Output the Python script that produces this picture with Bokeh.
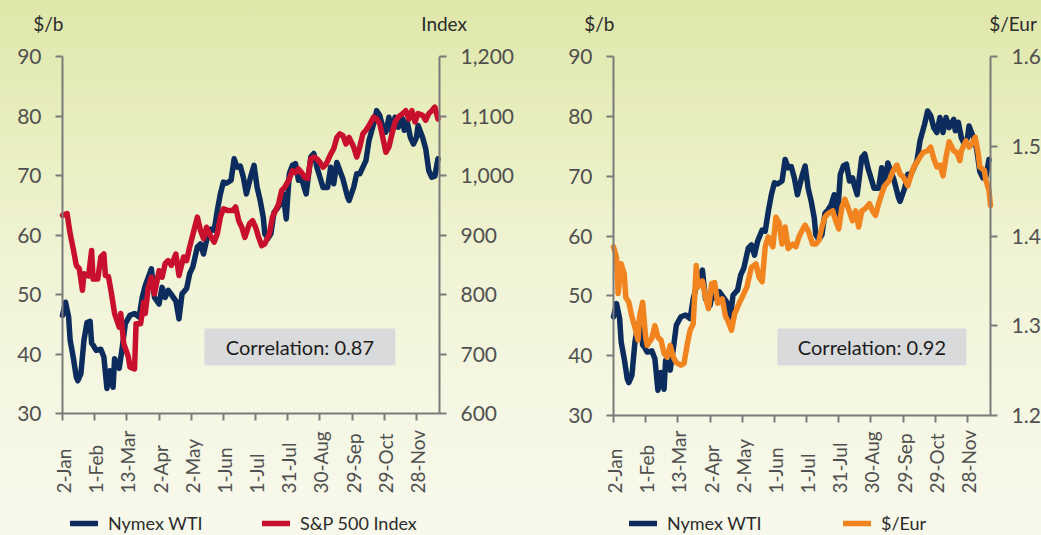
import math
from bokeh.plotting import figure
from bokeh.layouts import row
from bokeh.core.properties import value
from bokeh.models import (Range1d, LinearAxis, FixedTicker, NumeralTickFormatter, Label,
                          LabelSet, ColumnDataSource, BoxAnnotation, Legend, LegendItem,
                          GlobalInlineStyleSheet)
from bokeh.embed import file_html
from bokeh.resources import INLINE

# ---------------- data (trading-day index from 2-Jan, value) ----------------
tick_days = [0, 21, 42, 63, 84, 105, 126, 147, 168, 189, 210, 231]
tick_labels = ["2-Jan", "1-Feb", "13-Mar", "2-Apr", "2-May", "1-Jun", "1-Jul",
               "31-Jul", "30-Aug", "29-Sep", "29-Oct", "28-Nov"]

wti_day = [0, 2, 4, 5, 7, 9, 10, 12, 14, 16, 18, 19, 20, 22, 25, 27, 29, 31, 33, 34,
           37, 39, 41, 44, 47, 50, 52, 54, 56, 58, 60, 63, 65, 67, 69, 71, 74, 76, 78, 81,
           83, 85, 88, 90, 92, 94, 97, 99, 101, 103, 105, 107, 110, 112, 114, 116, 118, 120, 123, 125,
           127, 129, 131, 132, 134, 136, 138, 140, 142, 144, 146, 148, 150, 152, 154, 156, 157, 159, 162, 164,
           166, 168, 170, 173, 175, 177, 179, 181, 183, 186, 187, 190, 192, 194, 196, 198, 200, 203, 205, 207,
           209, 211, 213, 215, 217, 219, 222, 223, 225, 227, 229, 231, 232, 235, 237, 239, 241, 243, 245]
wti = [46.5, 48.7, 46.2, 42.3, 39.5, 36.1, 35.5, 36.7, 42.3, 45.3,
       45.5, 41.8, 41.5, 40.6, 40.8, 39.5, 34.2, 37.2, 34.4, 39.2,
       37.6, 41.1, 45.1, 46.5, 46.8, 46.2, 49.5, 51.5, 52.9, 54.3,
       49.5, 48.4, 51.2, 49.5, 50.7, 50.0, 48.9, 45.9, 50.1, 51.0,
       53.5, 54.6, 58.0, 58.5, 56.8, 59.1, 61.0, 60.8, 64.1, 66.9,
       68.9, 68.7, 69.2, 72.8, 71.4, 71.6, 69.7, 66.9, 70.0, 71.7,
       68.0, 65.8, 63.0, 60.2, 59.4, 60.2, 63.8, 64.4, 65.2, 66.9,
       62.7, 70.3, 71.7, 72.0, 69.2, 69.7, 68.6, 66.9, 73.1, 73.7,
       71.4, 69.7, 68.0, 68.0, 71.4, 68.6, 72.2, 70.8, 69.4, 66.4,
       65.8, 68.0, 70.3, 70.3, 71.4, 72.5, 75.9, 78.7, 80.9, 80.1,
       78.1, 77.3, 79.8, 77.3, 79.8, 78.1, 79.5, 77.6, 79.0, 76.4,
       75.3, 76.4, 78.4, 76.4, 74.5, 70.8, 69.7, 69.9, 72.8]

sp_day = [0, 3, 5, 7, 9, 11, 13, 14, 17, 19, 20, 23, 25, 27, 28, 30, 32, 34, 37, 38,
          40, 43, 44, 47, 48, 51, 53, 54, 56, 58, 60, 63, 65, 67, 69, 71, 74, 76, 79, 81,
          83, 86, 88, 90, 92, 94, 97, 99, 101, 103, 105, 108, 111, 113, 115, 117, 119, 122, 124, 126,
          128, 130, 132, 135, 137, 139, 141, 143, 145, 148, 150, 152, 154, 156, 158, 160, 162, 164, 166, 168,
          170, 172, 175, 177, 179, 181, 183, 185, 187, 190, 192, 194, 196, 198, 200, 203, 205, 207, 209, 211,
          213, 215, 217, 219, 222, 224, 226, 228, 230, 232, 235, 237, 239, 241, 243, 245]
sp500 = [933, 936, 902, 877, 849, 843, 807, 835, 831, 874,
         826, 826, 863, 868, 832, 830, 801, 768, 745, 768,
         717, 695, 678, 675, 751, 751, 787, 768, 812, 829,
         801, 840, 829, 852, 857, 849, 868, 832, 863, 857,
         880, 910, 930, 908, 894, 913, 896, 888, 902, 930,
         944, 941, 941, 947, 924, 913, 896, 919, 924, 913,
         896, 882, 885, 902, 930, 941, 952, 975, 980, 994,
         1008, 1005, 1011, 1005, 997, 995, 1028, 1031, 1028, 1022,
         1014, 1019, 1036, 1045, 1064, 1070, 1067, 1053, 1064, 1048,
         1031, 1048, 1070, 1076, 1084, 1098, 1095, 1087, 1064, 1039,
         1048, 1070, 1090, 1098, 1104, 1109, 1095, 1109, 1090, 1104,
         1101, 1093, 1104, 1109, 1115, 1095]

eur_day = [0, 2, 3, 5, 7, 8, 10, 12, 14, 16, 17, 19, 21, 22, 25, 27, 29, 31, 33, 35,
           37, 39, 41, 44, 46, 48, 50, 52, 54, 55, 58, 60, 62, 64, 66, 68, 71, 73, 75, 77,
           79, 82, 84, 87, 90, 93, 95, 97, 99, 101, 104, 106, 108, 110, 112, 114, 117, 119, 121, 123,
           125, 127, 130, 132, 134, 136, 138, 140, 143, 145, 147, 149, 151, 153, 156, 158, 160, 162, 164, 167,
           169, 171, 173, 175, 177, 180, 182, 184, 185, 187, 189, 192, 194, 196, 198, 200, 202, 205, 207, 209,
           211, 213, 215, 217, 219, 222, 224, 226, 227, 230, 232, 234, 236, 238, 239, 242, 243, 245, 246]
usd_eur = [1.388, 1.376, 1.336, 1.369, 1.358, 1.332, 1.326, 1.310, 1.298, 1.284,
           1.310, 1.326, 1.287, 1.278, 1.286, 1.300, 1.287, 1.284, 1.269, 1.265,
           1.278, 1.265, 1.259, 1.256, 1.258, 1.278, 1.295, 1.302, 1.367, 1.343,
           1.350, 1.332, 1.319, 1.347, 1.348, 1.325, 1.330, 1.311, 1.304, 1.295,
           1.313, 1.325, 1.332, 1.343, 1.365, 1.369, 1.354, 1.349, 1.388, 1.399,
           1.388, 1.421, 1.415, 1.391, 1.410, 1.386, 1.391, 1.388, 1.399, 1.406,
           1.412, 1.406, 1.391, 1.391, 1.395, 1.410, 1.421, 1.425, 1.428, 1.417,
           1.408, 1.432, 1.441, 1.432, 1.417, 1.428, 1.410, 1.428, 1.430, 1.436,
           1.428, 1.423, 1.436, 1.447, 1.456, 1.462, 1.471, 1.477, 1.479, 1.469,
           1.466, 1.456, 1.467, 1.477, 1.482, 1.488, 1.493, 1.495, 1.499, 1.486,
           1.477, 1.479, 1.467, 1.488, 1.505, 1.495, 1.493, 1.484, 1.495, 1.506,
           1.499, 1.503, 1.510, 1.492, 1.477, 1.473, 1.462, 1.451, 1.434]

wti_ticks = [30, 40, 50, 60, 70, 80, 90]
sp_ticks = [600, 700, 800, 900, 1000, 1100, 1200]
eur_ticks = [1.2, 1.3, 1.4, 1.5, 1.6]

# ---------------- style ----------------
NAVY = "#0b2c5c"
RED = "#c8102e"
ORANGE = "#f28420"
AXIS_C = "#7a7a7a"
TICK_TXT = "#505050"
DARK_TXT = "#2b2b2b"
FONT = "Lato"
H = 535
X_END = 246  # last trading-day slot on the axis
LW = 5.5


def style_axis(ax, ticks, bounds, fmt=None):
    ax.ticker = FixedTicker(ticks=ticks)
    ax.bounds = bounds
    if fmt:
        ax.formatter = NumeralTickFormatter(format=fmt)
    ax.axis_line_color = AXIS_C
    ax.axis_line_width = 2
    ax.major_tick_line_color = AXIS_C
    ax.major_tick_line_width = 2
    ax.major_tick_out = 7
    ax.major_tick_in = 0
    ax.minor_tick_line_color = None
    ax.major_label_text_font = FONT
    ax.major_label_text_font_size = "21px"
    ax.major_label_text_color = TICK_TXT
    ax.major_label_standoff = 14


def make_chart(width, fx0, fx1, fy0, fy1, y2_name, y2_lo, y2_hi, y2_ticks, y2_fmt,
               y2_vals, y2_days, y2_color, y2_label, corr_text, corr_box,
               titles, leg_x):
    # frame fills the whole canvas; axes sit at fixed data locations
    kx = (fx1 - fx0) / X_END
    ky = (fy1 - fy0) / 60.0
    ky2 = (fy1 - fy0) / (y2_hi - y2_lo)
    xr = Range1d(-fx0 / kx, (width - fx0) / kx)
    yr = Range1d(30 - (H - fy1) / ky, 90 + fy0 / ky)
    y2r = Range1d(y2_lo - (H - fy1) / ky2, y2_hi + fy0 / ky2)

    p = figure(width=width, height=H, x_range=xr, y_range=yr,
               output_backend="svg", toolbar_location=None, min_border=0)
    p.title.visible = False
    p.background_fill_color = None
    p.border_fill_color = None
    p.outline_line_color = None
    p.grid.visible = False
    p.extra_y_ranges = {y2_name: y2r}

    ya = p.yaxis[0]
    style_axis(ya, wti_ticks, (30, 90))
    ya.fixed_location = 0
    ax2 = LinearAxis(y_range_name=y2_name)
    style_axis(ax2, y2_ticks, (y2_lo, y2_hi), y2_fmt)
    ax2.fixed_location = X_END
    p.add_layout(ax2, "right")

    xa = p.xaxis[0]
    style_axis(xa, tick_days, (0, X_END))
    xa.fixed_location = 30
    xa.major_label_overrides = {d: "" for d in tick_days}

    # x tick labels, rotated and aligned at their start as in the original
    label_y = 30 - (493 - fy1) / ky
    src = ColumnDataSource(dict(x=tick_days, y=[label_y] * len(tick_days), t=tick_labels))
    p.add_layout(LabelSet(x="x", y="y", text="t", source=src, angle=math.pi / 2,
                          text_align="left", text_baseline="middle", x_offset=1,
                          text_font=value(FONT), text_font_size=value("19px"),
                          text_color=value(TICK_TXT)))

    r1 = p.line(wti_day, wti, line_width=LW, line_color=NAVY,
                line_join="round", line_cap="round")
    r2 = p.line(y2_days, y2_vals, y_range_name=y2_name, line_width=LW, line_color=y2_color,
                line_join="round", line_cap="round")

    l, r, b, t = corr_box
    p.add_layout(BoxAnnotation(left=l, right=r, bottom=b, top=t, fill_color="#d9dadb",
                               fill_alpha=1, line_color=None))
    p.add_layout(Label(x=(l + r) / 2, y=(b + t) / 2, text=corr_text, text_align="center",
                       text_baseline="middle", text_font=FONT, text_font_size="20px",
                       text_color="#1c1c1c"))

    title_y = 90 + (fy0 - 22.5) / ky
    for (tx, txt, al) in titles:
        p.add_layout(Label(x=tx, y=title_y, text=txt, text_align=al, text_baseline="middle",
                           text_font=FONT, text_font_size="19px", text_color=DARK_TXT))

    for rend, lab, lx in ((r1, "Nymex WTI", leg_x[0]), (r2, y2_label, leg_x[1])):
        lg = Legend(items=[LegendItem(label=lab, renderers=[rend])], location=(lx, 1),
                    orientation="horizontal", margin=0, padding=0, spacing=0,
                    glyph_width=28, glyph_height=20, label_height=20, label_standoff=10,
                    border_line_color=None, background_fill_alpha=0,
                    label_text_font=FONT, label_text_font_size="18px",
                    label_text_color=DARK_TXT)
        p.add_layout(lg)
    return p


p1 = make_chart(520, 62, 439, 56, 413, "sp", 600, 1200, sp_ticks, "0,0", sp500, sp_day, RED,
                "S&P 500 Index", "Correlation: 0.87", (92.6, 217.2, 38.07, 44.29),
                [(0.65, "$/b", "right"), (249, "Index", "center")],
                (70, 262))
p2 = make_chart(521, 93, 470, 56, 415, "eur", 1.2, 1.6, eur_ticks, "0.0", usd_eur, eur_day, ORANGE,
                "$/Eur", "Correlation: 0.92", (107.0, 230.3, 38.36, 44.54),
                [(0.65, "$/b", "right"), (260.7, "$/Eur", "center")],
                (109, 323))

bg = GlobalInlineStyleSheet(css="""
html { height: 100%; background: linear-gradient(to bottom, #dfe7aa 0%, #e9eebf 25%,
       #f1f4d6 50%, #f5f7e3 75%, #f8f9ec 100%) no-repeat; }
body { background: transparent; }
""")
layout = row(p1, p2, stylesheets=[bg])

open("out.html", "w").write(file_html(layout, INLINE))
